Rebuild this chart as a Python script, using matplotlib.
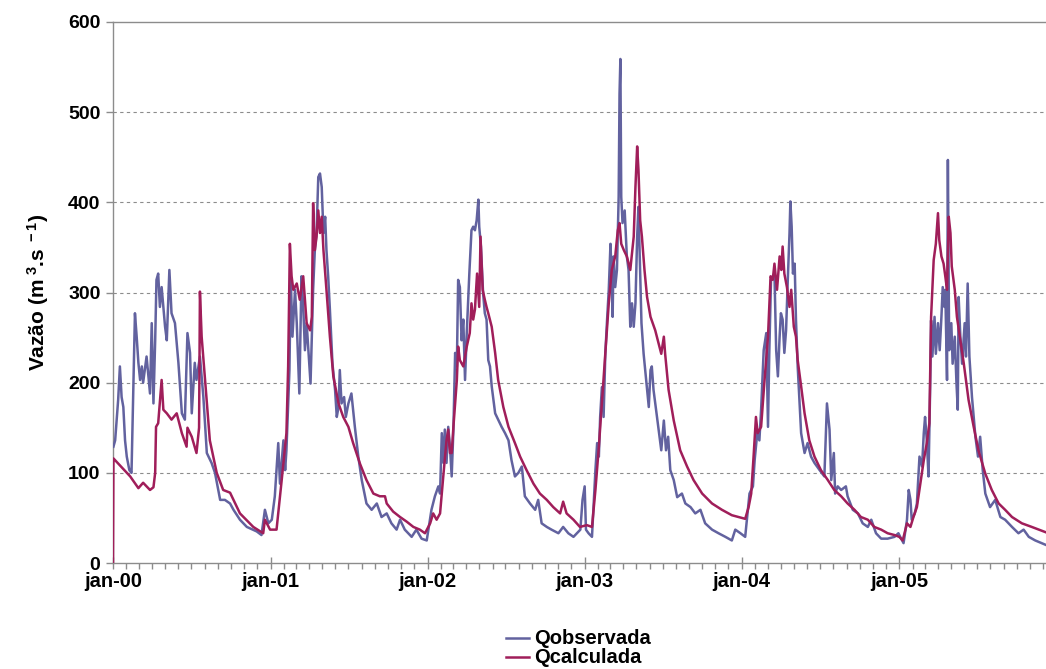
import matplotlib
matplotlib.use("Agg")
import matplotlib.pyplot as plt
import matplotlib.dates as mdates
import pandas as pd
import numpy as np

# ---------------- data (days since 2000-01-01, discharge m3/s) ----------------
obs_day = [1, 5, 12, 16, 20, 24, 28, 32, 38, 43, 46, 51, 55, 59, 63, 67, 70, 78, 86, 90,
           94, 98, 101, 105, 109, 113, 121, 125, 131, 136, 144, 152, 160, 167, 173, 179, 183, 190, 194, 202,
           210, 218, 229, 237, 249, 260, 272, 280, 295, 311, 334, 345, 353, 361, 369, 376, 384, 388, 396, 400,
           403, 410, 413, 417, 423, 427, 433, 438, 442, 446, 450, 456, 459, 462, 465, 469, 473, 477, 481, 485,
           489, 493, 496, 500, 504, 510, 516, 520, 524, 527, 531, 537, 541, 547, 554, 562, 570, 578, 589, 601,
           613, 624, 636, 647, 659, 667, 678, 694, 705, 717, 729, 740, 748, 756, 760, 764, 768, 771, 775, 779,
           783, 787, 791, 795, 799, 802, 806, 810, 814, 818, 822, 828, 833, 837, 841, 845, 849, 851, 855, 860,
           864, 868, 872, 876, 880, 884, 888, 895, 903, 911, 919, 926, 934, 942, 950, 957, 969, 981, 988, 996,
           1008, 1019, 1035, 1046, 1058, 1070, 1086, 1091, 1096, 1099, 1105, 1113, 1117, 1121, 1125, 1129, 1132, 1136, 1140, 1144,
           1148, 1152, 1156, 1158, 1161, 1163, 1167, 1171, 1175, 1177, 1179, 1181, 1184, 1189, 1194, 1198, 1202, 1206, 1210, 1214,
           1218, 1221, 1224, 1228, 1233, 1239, 1245, 1249, 1252, 1256, 1260, 1268, 1274, 1280, 1285, 1290, 1295, 1303, 1311, 1322,
           1330, 1342, 1353, 1365, 1376, 1392, 1407, 1423, 1438, 1446, 1458, 1469, 1479, 1487, 1491, 1497, 1502, 1506, 1512, 1518,
           1522, 1525, 1529, 1533, 1537, 1541, 1545, 1549, 1552, 1556, 1560, 1564, 1568, 1572, 1574, 1577, 1580, 1584, 1587, 1591,
           1595, 1599, 1607, 1614, 1622, 1630, 1642, 1653, 1659, 1665, 1669, 1675, 1678, 1684, 1692, 1703, 1707, 1719, 1731, 1742,
           1754, 1762, 1773, 1785, 1800, 1816, 1825, 1837, 1845, 1849, 1853, 1856, 1863, 1868, 1874, 1880, 1884, 1887, 1891, 1895,
           1899, 1901, 1904, 1909, 1912, 1917, 1921, 1925, 1928, 1932, 1934, 1938, 1940, 1943, 1948, 1951, 1956, 1960, 1963, 1965,
           1969, 1973, 1979, 1982, 1986, 1990, 1996, 2004, 2010, 2015, 2021, 2027, 2038, 2050, 2062, 2073, 2089, 2104, 2116, 2128,
           2143, 2158, 2168]
obs_q = [129, 136, 181, 218, 184, 173, 136, 118, 103, 100, 166, 277, 251, 222, 203, 218, 200, 229, 188, 266,
         177, 247, 314, 321, 284, 306, 262, 247, 325, 277, 266, 222, 166, 159, 255, 233, 166, 222, 203, 229,
         184, 122, 111, 100, 70, 70, 66, 59, 48, 40, 35, 31, 59, 44, 48, 74, 133, 88, 136, 103,
         125, 214, 318, 251, 303, 266, 188, 318, 284, 236, 266, 221, 199, 251, 303, 347, 366, 428, 432, 417,
         366, 384, 347, 318, 281, 221, 192, 162, 173, 214, 177, 184, 162, 177, 188, 151, 118, 92, 66, 59,
         66, 51, 55, 44, 37, 48, 37, 29, 37, 27, 25, 59, 74, 85, 77, 144, 111, 148, 111, 151,
         129, 96, 148, 233, 218, 314, 306, 247, 270, 203, 255, 321, 369, 373, 369, 380, 403, 373, 351, 299,
         277, 270, 225, 218, 196, 181, 166, 159, 151, 144, 136, 114, 96, 100, 107, 74, 66, 59, 70, 44,
         40, 37, 33, 40, 33, 29, 37, 70, 85, 37, 33, 29, 66, 103, 133, 118, 162, 195, 162, 232,
         269, 303, 354, 325, 273, 340, 306, 325, 406, 520, 559, 406, 377, 391, 340, 325, 262, 288, 262, 288,
         362, 395, 340, 266, 232, 203, 173, 214, 218, 192, 177, 147, 125, 158, 125, 140, 103, 92, 73, 77,
         66, 62, 55, 59, 44, 37, 33, 29, 25, 37, 33, 29, 77, 85, 114, 144, 136, 170, 236, 255,
         151, 233, 314, 318, 321, 236, 207, 251, 277, 270, 233, 258, 314, 366, 401, 373, 321, 332, 270, 218,
         181, 144, 122, 133, 118, 111, 103, 96, 177, 148, 92, 122, 77, 85, 81, 85, 74, 59, 55, 44,
         40, 48, 33, 27, 27, 29, 33, 22, 48, 81, 70, 48, 55, 66, 118, 107, 144, 162, 136, 96,
         199, 269, 229, 273, 232, 266, 236, 273, 306, 284, 303, 203, 447, 236, 266, 221, 251, 199, 170, 295,
         251, 221, 266, 229, 310, 229, 184, 140, 118, 140, 103, 77, 62, 70, 51, 48, 40, 33, 37, 29,
         25, 22, 20]

calc_day = [0, 1, 40, 59, 70, 86, 94, 98, 100, 105, 113, 117, 125, 136, 148, 160, 171, 173, 183, 194,
            200, 202, 206, 214, 225, 241, 256, 272, 295, 326, 349, 353, 365, 380, 392, 403, 407, 411, 415, 419,
            427, 434, 442, 450, 458, 462, 465, 469, 473, 477, 481, 485, 489, 496, 504, 512, 524, 535, 547, 558,
            574, 589, 605, 620, 632, 636, 651, 667, 682, 698, 713, 725, 737, 744, 752, 760, 764, 768, 775, 779,
            783, 787, 791, 799, 802, 806, 814, 822, 829, 833, 837, 841, 845, 846, 851, 854, 859, 864, 868, 872,
            880, 888, 895, 907, 919, 934, 946, 961, 977, 992, 1008, 1023, 1039, 1046, 1054, 1070, 1085, 1101, 1113, 1121,
            1129, 1136, 1144, 1152, 1159, 1167, 1173, 1177, 1181, 1187, 1194, 1202, 1210, 1214, 1218, 1221, 1225, 1229, 1235, 1241,
            1249, 1260, 1268, 1274, 1280, 1283, 1291, 1303, 1318, 1334, 1349, 1369, 1392, 1415, 1438, 1454, 1469, 1477, 1483, 1489,
            1494, 1498, 1506, 1514, 1522, 1528, 1533, 1537, 1543, 1549, 1553, 1556, 1560, 1566, 1572, 1576, 1582, 1587, 1591, 1599,
            1607, 1618, 1630, 1645, 1661, 1676, 1692, 1707, 1723, 1738, 1754, 1769, 1785, 1800, 1816, 1827, 1835, 1845, 1853, 1860,
            1868, 1876, 1884, 1891, 1897, 1901, 1907, 1912, 1917, 1920, 1925, 1930, 1934, 1938, 1942, 1946, 1949, 1956, 1961, 1969,
            1977, 1988, 2000, 2011, 2027, 2042, 2058, 2073, 2089, 2112, 2135, 2168]
calc_q = [0, 116, 96, 83, 89, 81, 84, 100, 151, 155, 203, 170, 166, 159, 166, 144, 129, 150, 140, 122,
          150, 301, 251, 203, 136, 100, 81, 78, 55, 40, 33, 48, 37, 37, 92, 144, 218, 354, 318, 303,
          310, 292, 318, 266, 258, 273, 399, 347, 362, 391, 366, 384, 347, 303, 251, 207, 177, 162, 151, 133,
          110, 92, 77, 74, 74, 66, 57, 51, 46, 40, 37, 33, 44, 55, 48, 55, 77, 99, 136, 148,
          122, 122, 151, 203, 240, 225, 218, 240, 255, 288, 270, 281, 314, 321, 284, 362, 303, 292, 284, 277,
          262, 233, 203, 173, 151, 133, 118, 103, 88, 77, 70, 62, 55, 68, 55, 48, 40, 42, 40, 81,
          129, 177, 232, 288, 325, 340, 369, 377, 354, 347, 340, 325, 362, 417, 462, 436, 380, 362, 325, 295,
          273, 258, 243, 232, 251, 232, 192, 158, 125, 107, 92, 77, 66, 59, 53, 51, 49, 62, 77, 122,
          162, 144, 151, 203, 251, 318, 314, 332, 303, 340, 325, 351, 321, 306, 284, 303, 262, 251, 225, 196,
          166, 136, 118, 103, 92, 81, 74, 66, 59, 51, 48, 40, 37, 33, 31, 29, 25, 44, 40, 51,
          62, 88, 114, 133, 155, 273, 336, 354, 388, 358, 340, 332, 318, 303, 384, 366, 329, 303, 273, 247,
          221, 181, 151, 125, 99, 81, 66, 59, 51, 44, 40, 34]

year_ticks = ["jan-00", "jan-01", "jan-02", "jan-03", "jan-04", "jan-05"]
y_ticks = [0, 100, 200, 300, 400, 500, 600]
series_names = ["Qobservada", "Qcalculada"]

# ---------------- style ----------------
plt.rcParams['font.family'] = ['Liberation Sans', 'DejaVu Sans']
plt.rcParams['mathtext.fontset'] = 'custom'
plt.rcParams['mathtext.rm'] = 'Liberation Sans:bold'
plt.rcParams['mathtext.bf'] = 'Liberation Sans:bold'
plt.rcParams['mathtext.it'] = 'Liberation Sans:bold'

c_obs = '#62629F'
c_calc = '#A01E5A'
grey = '#8C8C8C'

start = pd.Timestamp('2000-01-01')
obs_t = start + pd.to_timedelta(obs_day, unit='D')
calc_t = start + pd.to_timedelta(calc_day, unit='D')

fig = plt.figure(figsize=(10.46, 6.69), dpi=100)
ax = fig.add_axes([113/1046, 1 - 563/669, 1 - 113/1046, (563 - 22)/669])

ax.plot(obs_t, obs_q, color=c_obs, lw=1.8, label=series_names[0], zorder=3)
ax.plot(calc_t, calc_q, color=c_calc, lw=1.8, label=series_names[1], zorder=4)

ax.set_ylim(0, 600)
ax.set_xlim(start, start + pd.Timedelta(days=2168))
ax.set_yticks(y_ticks)
ax.set_yticklabels([str(v) for v in y_ticks], fontweight='bold', fontsize=14)

major = [pd.Timestamp(f'{y}-01-01') for y in range(2000, 2006)]
ax.set_xticks(major)
ax.set_xticklabels(year_ticks, fontweight='bold', fontsize=14.5)
ax.xaxis.set_minor_locator(mdates.MonthLocator())

for y in y_ticks[1:-1]:
    ax.axhline(y, color=grey, lw=0.8, ls=(0, (3, 3)), zorder=1)

for s in ['left', 'bottom', 'top']:
    ax.spines[s].set_color(grey)
    ax.spines[s].set_linewidth(1.0)
ax.spines['right'].set_visible(False)

ax.tick_params(axis='y', direction='out', length=5, width=1, color=grey, pad=4)
ax.tick_params(axis='x', which='major', direction='inout', length=9, width=1, color=grey, pad=2)
ax.tick_params(axis='x', which='minor', direction='out', length=4, width=1, color=grey)

ax.set_ylabel('Vazão (m$^{\\ 3}$.s$^{\\ -1}$)', fontsize=15, fontweight='bold', labelpad=12)

leg = fig.legend(loc='center', bbox_to_anchor=(0.553, 0.031), frameon=False,
                 prop={'weight': 'bold', 'size': 14.5}, handlelength=1.1,
                 handletextpad=0.25, labelspacing=0.0, borderpad=0.05, handleheight=0.5)

fig.savefig('out.png', dpi=100)
